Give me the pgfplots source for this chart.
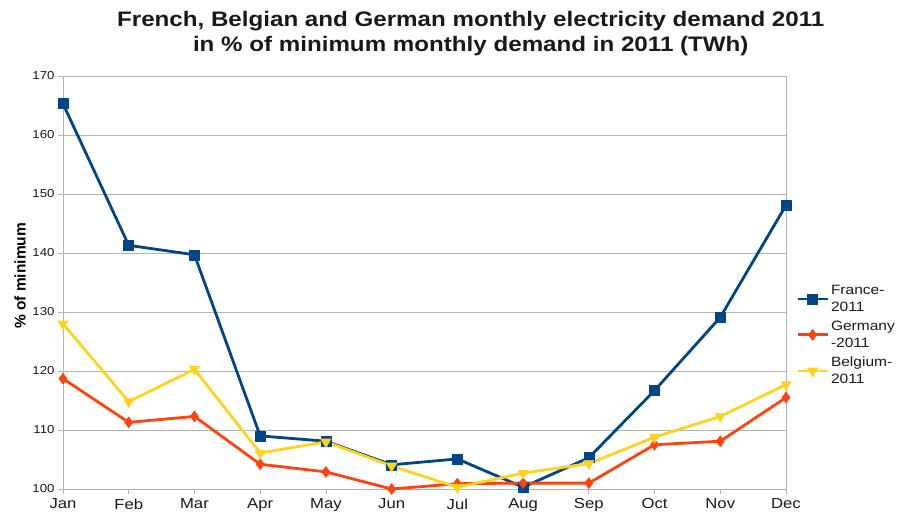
\documentclass[border=0pt]{standalone}
\usepackage{fontspec}
\setmainfont[FakeStretch=1.15]{Liberation Sans}
\newfontfamily\ylabfont{Liberation Sans}
\usepackage{pgfplots}
\pgfplotsset{compat=1.18}
\definecolor{frblue}{HTML}{004586}
\definecolor{deorange}{HTML}{FF420E}
\definecolor{beyellow}{HTML}{FFD320}
\definecolor{gridgray}{HTML}{B3B3B3}

\begin{document}
\begin{tikzpicture}
\begin{axis}[
    scale only axis,
    width=723pt, height=413pt,
    xmin=0, xmax=11, ymin=100, ymax=170,
    xtick={0,...,11},
    xticklabels={Jan,Feb,Mar,Apr,May,Jun,Jul,Aug,Sep,Oct,Nov,Dec},
    ytick={100,110,...,170},
    ymajorgrids,
    grid style={gridgray, line width=0.8pt},
    axis line style={gridgray, line width=0.8pt},
    tick align=outside, tick pos=left,
    major tick length=5pt,
    tick style={gridgray, line width=0.8pt},
    /pgf/number format/assume math mode=true,
    xticklabel style={font=\fontsize{14.5}{17}\selectfont, text=black!90, yshift=-1pt},
    yticklabel style={font=\fontsize{11.5}{14}\selectfont, text=black!90},
    ylabel={\% of minimum},
    every axis y label/.style={at={(axis description cs:-0.0595,0.516)}, rotate=90, anchor=center,
        font=\ylabfont\bfseries\fontsize{15.5}{18}\selectfont},
    title={French, Belgian and German monthly electricity demand 2011\\in \% of minimum monthly demand in 2011 (TWh)},
    title style={at={(axis description cs:0.564,1)}, anchor=south, yshift=14pt, inner sep=0pt,
        align=center, font=\bfseries\fontsize{21}{25}\selectfont, text=black!90},
    legend style={at={(axis description cs:1,0.499)}, anchor=north west, xshift=10pt,
        draw=none, fill=none, inner sep=0pt, row sep=4pt,
        font=\fontsize{13.5}{17}\selectfont, nodes={align=left, text=black!90}},
    legend cell align=left,
    legend image code/.code={\draw[mark repeat=2,mark phase=2] plot coordinates {(0pt,0pt) (15pt,0pt) (30pt,0pt)};},
    every axis plot/.append style={line width=2.8pt, line join=round},
]
\addplot[frblue, mark=square*, mark size=5pt, mark options={line width=0.5pt}] coordinates {
    (0,165.3) (1,141.3) (2,139.7) (3,109.0) (4,108.1) (5,104.1)
    (6,105.1) (7,100.3) (8,105.3) (9,116.7) (10,129.1) (11,148.1)
};
\addlegendentry{France-\\2011}
\addplot[deorange, mark=diamond*, mark size=5.5pt, mark options={line width=0.5pt}] coordinates {
    (0,118.7) (1,111.3) (2,112.3) (3,104.2) (4,102.9) (5,100.0)
    (6,100.9) (7,101.0) (8,101.0) (9,107.5) (10,108.1) (11,115.5)
};
\addlegendentry{Germany\\-2011}
\addplot[beyellow, mark=triangle*, mark size=6pt, mark options={rotate=180, line width=0.5pt}] coordinates {
    (0,128.0) (1,114.8) (2,120.3) (3,106.1) (4,108.0) (5,103.9)
    (6,100.3) (7,102.7) (8,104.3) (9,108.8) (10,112.3) (11,117.7)
};
\addlegendentry{Belgium-\\2011}
\end{axis}
\pgfresetboundingbox
\path[use as bounding box] (-63pt,-28pt) rectangle (836pt,489pt);
\end{tikzpicture}
\end{document}
